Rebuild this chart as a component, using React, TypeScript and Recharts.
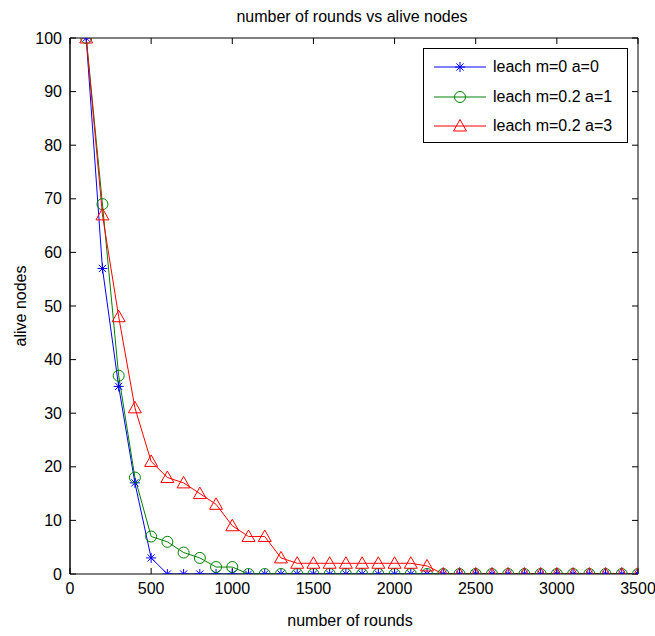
import React from 'react';
import { LineChart, Line, XAxis, YAxis } from 'recharts';

const rounds = [100, 200, 300, 400, 500, 600, 700, 800, 900, 1000, 1100, 1200, 1300, 1400, 1500, 1600, 1700, 1800, 1900, 2000, 2100, 2200, 2300, 2400, 2500, 2600, 2700, 2800, 2900, 3000, 3100, 3200, 3300, 3400, 3500];
const aliveLeachM0A0 = [100, 57, 35, 17, 3, 0, 0, 0, 0, 0, 0, 0, 0, 0, 0, 0, 0, 0, 0, 0, 0, 0, 0, 0, 0, 0, 0, 0, 0, 0, 0, 0, 0, 0, 0];
const aliveLeachM02A1 = [100, 69, 37, 18, 7, 6, 4, 3, 1.3, 1.3, 0, 0, 0, 0, 0, 0, 0, 0, 0, 0, 0, 0, 0, 0, 0, 0, 0, 0, 0, 0, 0, 0, 0, 0, 0];
const aliveLeachM02A3 = [100, 67, 48, 31, 21, 18, 17, 15, 13, 9, 7, 7, 3, 2, 2, 2, 2, 2, 2, 2, 2, 1.5, 0, 0, 0, 0, 0, 0, 0, 0, 0, 0, 0, 0, 0];
const seriesNames = ['leach m=0 a=0', 'leach m=0.2 a=1', 'leach m=0.2 a=3'];
const xTicks = [0, 500, 1000, 1500, 2000, 2500, 3000, 3500];
const yTicks = [0, 10, 20, 30, 40, 50, 60, 70, 80, 90, 100];
const chartTitle = 'number of rounds vs alive nodes';
const xLabel = 'number of rounds';
const yLabel = 'alive nodes';

const data = rounds.map((r, i) => ({
  round: r,
  s0: aliveLeachM0A0[i],
  s1: aliveLeachM02A1[i],
  s2: aliveLeachM02A3[i],
}));

const FONT = '"Liberation Sans", Arial, Helvetica, sans-serif';
const BLUE = '#0000ff';
const GREEN = '#008000';
const RED = '#ff0000';

const Star = ({ cx, cy, color }: any) => {
  const r = 5;
  const d = 3.6;
  return (
    <g stroke={color} strokeWidth={1} fill="none">
      <line x1={cx - r} y1={cy} x2={cx + r} y2={cy} />
      <line x1={cx} y1={cy - r} x2={cx} y2={cy + r} />
      <line x1={cx - d} y1={cy - d} x2={cx + d} y2={cy + d} />
      <line x1={cx - d} y1={cy + d} x2={cx + d} y2={cy - d} />
    </g>
  );
};

const Circ = ({ cx, cy, color }: any) => (
  <circle cx={cx} cy={cy} r={5.5} stroke={color} strokeWidth={1} fill="none" />
);

const Tri = ({ cx, cy, color }: any) => (
  <polygon
    points={`${cx},${cy - 6.5} ${cx - 6.5},${cy + 5} ${cx + 6.5},${cy + 5}`}
    stroke={color}
    strokeWidth={1}
    fill="none"
  />
);

const series = [
  { key: 's0', name: seriesNames[0], color: BLUE, Marker: Star },
  { key: 's1', name: seriesNames[1], color: GREEN, Marker: Circ },
  { key: 's2', name: seriesNames[2], color: RED, Marker: Tri },
];

const axisCommon = { allowDataOverflow: true };
const NoLabel = () => <g />;

export default function App() {
  return (
    <div style={{ position: 'absolute', left: 0, top: 0, width: 655, height: 636, background: '#fff' }}>
      <LineChart
        width={655}
        height={636}
        data={data}
        margin={{ top: 38, right: 17, bottom: 32, left: 20 }}
      >
        <XAxis
          {...axisCommon}
          xAxisId="b"
          dataKey="round"
          type="number"
          domain={[0, 3500]}
          ticks={xTicks}
          orientation="bottom"
          height={30}
          tickSize={0}
          tickMargin={9}
          tickLine={false}
          axisLine={{ stroke: '#000', strokeWidth: 1 }}
          tick={{ fill: '#000', fontSize: 16, fontFamily: FONT }}
        />
        <XAxis
          {...axisCommon}
          xAxisId="bIn"
          dataKey="round"
          type="number"
          domain={[0, 3500]}
          ticks={xTicks}
          orientation="bottom"
          mirror
          tick={NoLabel}
          tickSize={6}
          tickLine={{ stroke: '#000' }}
          axisLine={false}
        />
        <XAxis
          {...axisCommon}
          xAxisId="t"
          dataKey="round"
          type="number"
          domain={[0, 3500]}
          ticks={xTicks}
          orientation="top"
          mirror
          tick={NoLabel}
          tickSize={6}
          tickLine={{ stroke: '#000' }}
          axisLine={{ stroke: '#000', strokeWidth: 1 }}
        />
        <YAxis
          {...axisCommon}
          yAxisId="l"
          type="number"
          domain={[0, 100]}
          ticks={yTicks}
          orientation="left"
          width={50}
          tickSize={0}
          tickMargin={8}
          tickLine={false}
          axisLine={{ stroke: '#000', strokeWidth: 1.5 }}
          tick={{ fill: '#000', fontSize: 16, fontFamily: FONT }}
        />
        <YAxis
          {...axisCommon}
          yAxisId="lIn"
          type="number"
          domain={[0, 100]}
          ticks={yTicks}
          orientation="left"
          mirror
          tick={NoLabel}
          tickSize={6}
          tickLine={{ stroke: '#000' }}
          axisLine={false}
        />
        <YAxis
          {...axisCommon}
          yAxisId="r"
          type="number"
          domain={[0, 100]}
          ticks={yTicks}
          orientation="right"
          mirror
          tick={NoLabel}
          tickSize={6}
          tickLine={{ stroke: '#000' }}
          axisLine={{ stroke: '#000', strokeWidth: 1 }}
        />
        {series.map((s) => (
          <Line
            key={s.key}
            xAxisId="b"
            yAxisId="l"
            dataKey={s.key}
            name={s.name}
            type="linear"
            stroke={s.color}
            strokeWidth={1}
            isAnimationActive={false}
            dot={(p: any) => <s.Marker key={`${s.key}-${p.index}`} cx={p.cx} cy={p.cy} color={s.color} />}
            activeDot={false}
          />
        ))}
      </LineChart>

      <svg
        width={655}
        height={636}
        style={{ position: 'absolute', left: 0, top: 0, pointerEvents: 'none' }}
      >
        <text x={352} y={22} textAnchor="middle" fontSize={16} fontFamily={FONT} fill="#000">
          {chartTitle}
        </text>
        <text x={350} y={626} textAnchor="middle" fontSize={16} fontFamily={FONT} fill="#000">
          {xLabel}
        </text>
        <text
          x={26}
          y={306}
          textAnchor="middle"
          fontSize={16}
          fontFamily={FONT}
          fill="#000"
          transform="rotate(-90 26 306)"
        >
          {yLabel}
        </text>
      </svg>

      <div
        style={{
          position: 'absolute',
          left: 423,
          top: 48,
          width: 205,
          height: 95,
          boxSizing: 'border-box',
          border: '1px solid #000',
          background: '#fff',
          fontFamily: FONT,
          fontSize: 16,
        }}
      >
        {series.map((s, i) => (
          <div
            key={s.key}
            style={{ position: 'absolute', left: 10, top: 5 + i * 29.5, height: 26, display: 'flex', alignItems: 'center' }}
          >
            <svg width={54} height={26} style={{ display: 'block' }}>
              <line x1={0} y1={13} x2={52} y2={13} stroke={s.color} strokeWidth={1} />
              <s.Marker cx={26} cy={13} color={s.color} />
            </svg>
            <span style={{ marginLeft: 5, whiteSpace: 'nowrap', color: '#000' }}>{s.name}</span>
          </div>
        ))}
      </div>
    </div>
  );
}
